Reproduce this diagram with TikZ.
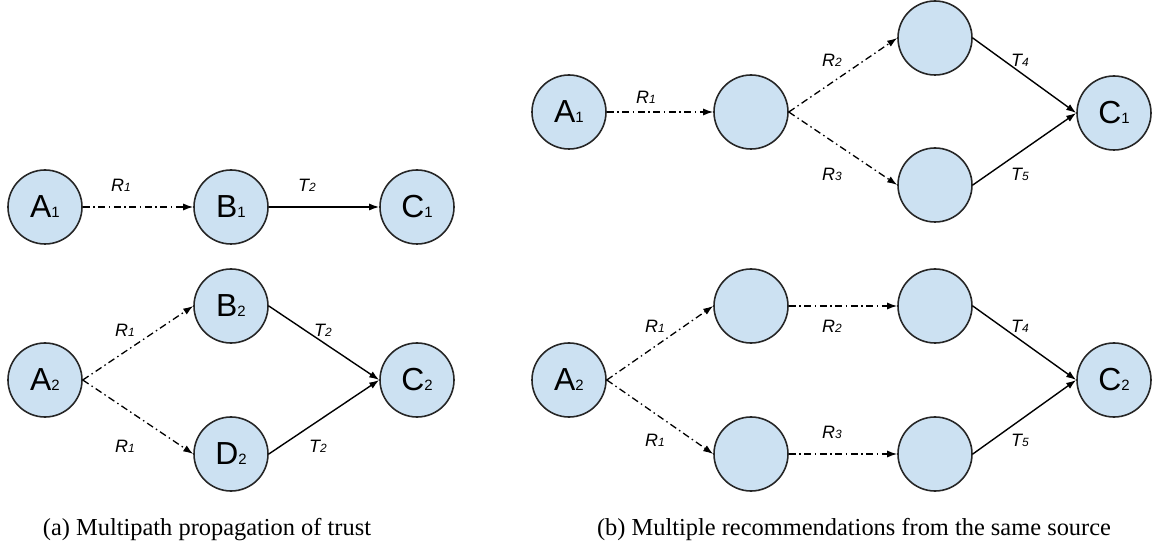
\documentclass[tikz,border=0pt]{standalone}
\usepackage{fontspec}
\setmainfont{Liberation Serif}
\newfontfamily\arialfont{Liberation Sans}
\usetikzlibrary{arrows.meta}
\definecolor{nodeblue}{RGB}{204,225,242}
\newcommand{\nd}[2]{{\arialfont\fontsize{32}{32}\selectfont #1\fontsize{15}{15}\selectfont #2}}
\newcommand{\lb}[2]{{\arialfont\itshape\fontsize{18}{18}\selectfont #1\fontsize{12}{12}\selectfont #2}}

\begin{document}
\begin{tikzpicture}[x=1bp,y=-1bp,
  trust/.style={circle,draw=black!85,fill=nodeblue,line width=1.6bp,minimum size=74bp,inner sep=0pt},
  rec/.style={-{Latex[length=10bp,width=7bp]},line width=1.3bp,dash pattern=on 7bp off 3.5bp on 1.5bp off 3.5bp},
  tr/.style={-{Latex[length=10bp,width=7bp]},line width=1.4bp}]
   \path[use as bounding box] (0,0) rectangle (1157,554);
   % (a) multipath
   \node[trust] (a1) at ( 45,207) {\nd{A}{1}};
   \node[trust] (b1) at (231,207) {\nd{B}{1}};
   \node[trust] (c1) at (417,207) {\nd{C}{1}};
   \node[trust] (a2) at ( 45,380) {\nd{A}{2}};
   \node[trust] (b2) at (231,306) {\nd{B}{2}};
   \node[trust] (d2) at (231,454) {\nd{D}{2}};
   \node[trust] (c2) at (417,380) {\nd{C}{2}};
   \draw[rec] (a1.east) -- (b1.west);
   \draw[tr]  (b1.east) -- (c1.west);
   \draw[rec] (a2.east) -- (b2.west);
   \draw[rec] (a2.east) -- (d2.west);
   \draw[tr]  (b2.east) -- (c2.west);
   \draw[tr]  (d2.east) -- (c2.west);
   \node (la1) at (121,185) {\lb{R}{1}};
   \node (la2) at (307,185) {\lb{T}{2}};
   \node (la3) at (125,330) {\lb{R}{1}};
   \node (la4) at (323,330) {\lb{T}{2}};
   \node (la5) at (125,446) {\lb{R}{1}};
   \node (la6) at (318,446) {\lb{T}{2}};
   % (b) same source
   \node[trust] (sa1) at ( 569,112) {\nd{A}{1}};
   \node[trust] (sm1) at ( 751,112) {};
   \node[trust] (su1) at ( 935, 38) {};
   \node[trust] (sl1) at ( 935,185) {};
   \node[trust] (sc1) at (1114,113) {\nd{C}{1}};
   \draw[rec] (sa1.east) -- (sm1.west);
   \draw[rec] (sm1.east) -- (su1.west);
   \draw[rec] (sm1.east) -- (sl1.west);
   \draw[tr]  (su1.east) -- (sc1.west);
   \draw[tr]  (sl1.east) -- (sc1.west);
   \node (lb1) at ( 646, 97) {\lb{R}{1}};
   \node (lb2) at ( 832, 60) {\lb{R}{2}};
   \node (lb3) at ( 832,174) {\lb{R}{3}};
   \node (lb4) at (1020, 60) {\lb{T}{4}};
   \node (lb5) at (1020,174) {\lb{T}{5}};
   \node[trust] (sa2) at ( 569,380) {\nd{A}{2}};
   \node[trust] (su2) at ( 751,306) {};
   \node[trust] (sl2) at ( 751,454) {};
   \node[trust] (sv2) at ( 935,306) {};
   \node[trust] (sw2) at ( 935,454) {};
   \node[trust] (sc2) at (1114,380) {\nd{C}{2}};
   \draw[rec] (sa2.east) -- (su2.west);
   \draw[rec] (sa2.east) -- (sl2.west);
   \draw[rec] (su2.east) -- (sv2.west);
   \draw[rec] (sl2.east) -- (sw2.west);
   \draw[tr]  (sv2.east) -- (sc2.west);
   \draw[tr]  (sw2.east) -- (sc2.west);
   \node (lb6) at ( 655,326) {\lb{R}{1}};
   \node (lb7) at ( 832,326) {\lb{R}{2}};
   \node (lb8) at (1020,326) {\lb{T}{4}};
   \node (lb9) at ( 655,440) {\lb{R}{1}};
   \node (lb10) at ( 832,432) {\lb{R}{3}};
   \node (lb11) at (1020,440) {\lb{T}{5}};
   % captions
   \node (capa) at (207,530) {\fontsize{24.5}{24.5}\selectfont (a) Multipath propagation of trust};
   \node (capb) at (854,530) {\fontsize{24.5}{24.5}\selectfont (b) Multiple recommendations from the same source};
\end{tikzpicture}
\end{document}
